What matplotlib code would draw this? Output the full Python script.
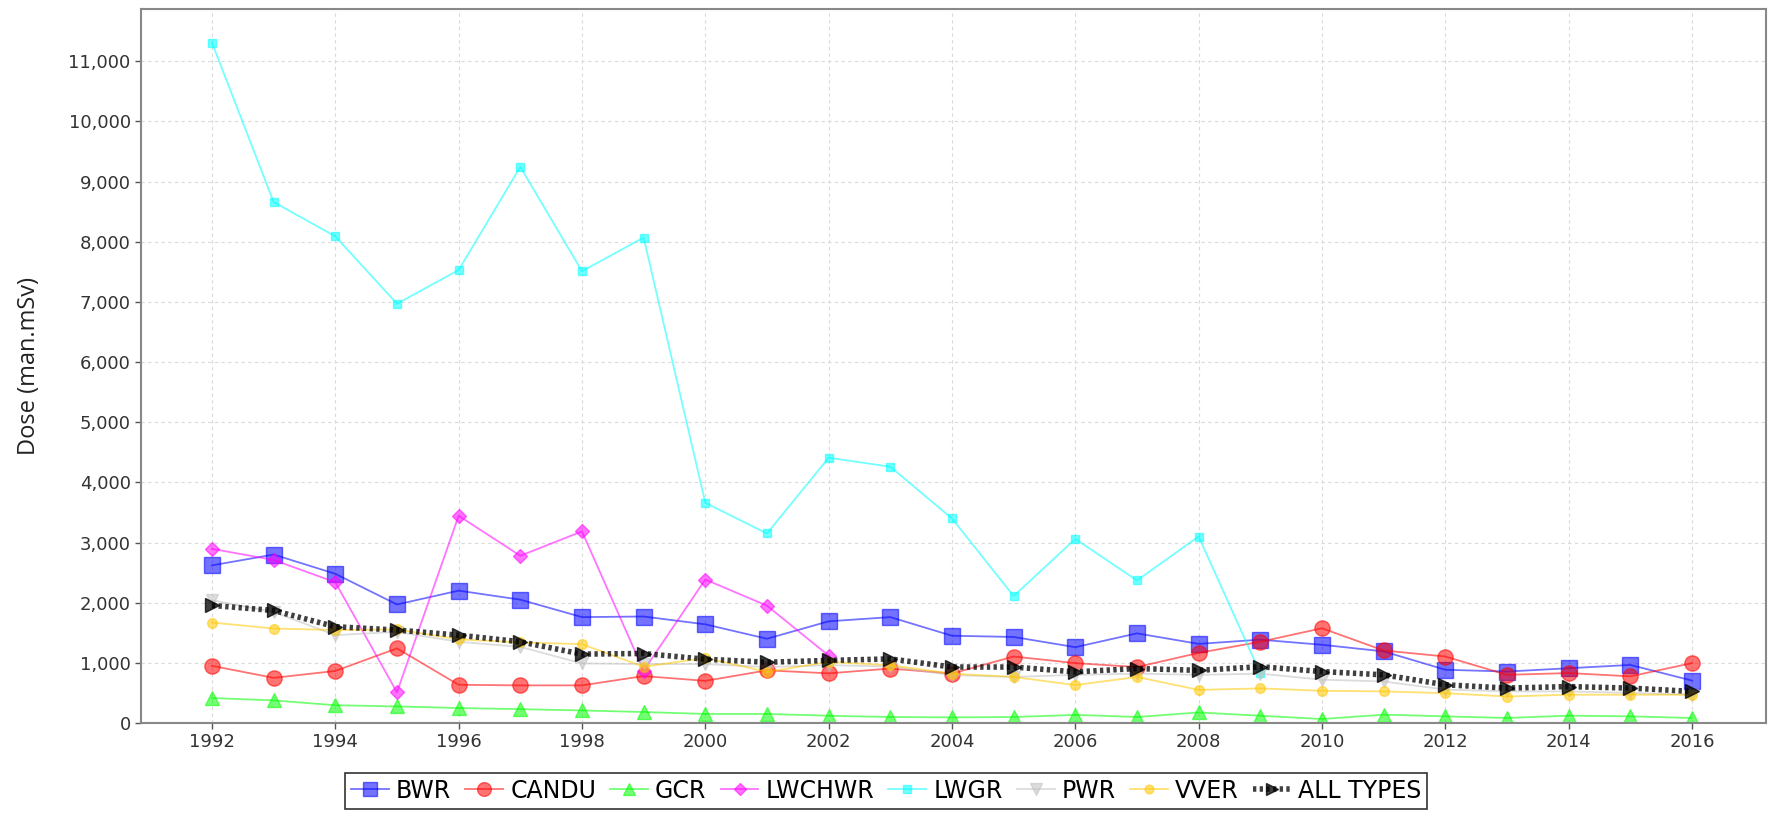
import matplotlib

matplotlib.use("Agg")
import matplotlib.pyplot as plt  # noqa: E402
from matplotlib.ticker import FuncFormatter, MultipleLocator  # noqa: E402

years = list(range(1992, 2017))

bwr = [2620, 2800, 2480, 1970, 2200, 2050, 1760, 1770, 1640, 1400, 1690, 1760,
       1450, 1430, 1260, 1490, 1315, 1385, 1300, 1190, 885, 855, 910, 965, 705]
candu = [950, 750, 865, 1240, 635, 625, 625, 780, 700, 875, 825, 905,
         822, 1105, 995, 930, 1165, 1350, 1575, 1205, 1105, 800, 830, 775, 995]
gcr = [415, 375, 295, 275, 248, 230, 208, 182, 150, 150, 120, 99,
       93, 99, 135, 99, 175, 120, 66, 138, 110, 83, 122, 110, 83]
lwchwr = [2895, 2710, 2340, 510, 3445, 2780, 3185, 870, 2385, 1950, 1120]
lwgr = [11310, 8660, 8090, 6970, 7530, 9245, 7510, 8070, 3660, 3150, 4410, 4260,
        3400, 2110, 3060, 2370, 3100, 825]
pwr = [2040, 1845, 1460, 1515, 1350, 1265, 990, 980, 980, 930, 960, 940,
       795, 765, 800, 820, 800, 820, 720, 690, 555, 525, 525, 500, 470]
vver = [1670, 1570, 1545, 1555, 1390, 1340, 1310, 935, 1080, 850, 1015, 960,
        820, 765, 630, 765, 550, 575, 535, 525, 495, 440, 470, 470, 470]
all_types = [1955, 1870, 1600, 1545, 1460, 1350, 1145, 1155, 1060, 1010, 1040, 1065,
             930, 930, 850, 905, 875, 935, 855, 800, 635, 580, 605, 580, 525]

series = [
    ("BWR", bwr, "#0000ff", "s", 11),
    ("CANDU", candu, "#ff0000", "o", 11),
    ("GCR", gcr, "#00ff00", "^", 10),
    ("LWCHWR", lwchwr, "#ff00ff", "D", 7),
    ("LWGR", lwgr, "#00ffff", "s", 6),
    ("PWR", pwr, "#c0c0c0", "v", 9),
    ("VVER", vver, "#ffc800", "o", 7),
]

fig = plt.figure(figsize=(17.72, 8.16), dpi=100)
ax = fig.add_axes([0.0796, 0.114, 0.917, 0.875])

for name, vals, color, marker, ms in series:
    ax.plot(years[:len(vals)], vals, color=color, alpha=0.55, linewidth=1.3,
            marker=marker, markersize=ms, markeredgecolor=color,
            markerfacecolor=color, label=name)

ax.plot(years, all_types, color="black", alpha=0.75, linewidth=4,
        linestyle=(0, (0.6, 0.6)), marker=">", markersize=10,
        markeredgecolor="black", markerfacecolor="black", label="ALL TYPES")

ax.set_xlim(1990.85, 2017.2)
ax.set_ylim(0, 11870)
ax.xaxis.set_major_locator(MultipleLocator(2))
ax.yaxis.set_major_locator(MultipleLocator(1000))
ax.yaxis.set_major_formatter(FuncFormatter(lambda v, p: f"{int(v):,}"))
ax.tick_params(labelsize=13, colors="#555555", length=4, width=1,
               labelcolor="#333333")
ax.grid(True, color="#dadada", linestyle=(0, (3, 3)), linewidth=0.8)
ax.set_axisbelow(True)
for spine in ax.spines.values():
    spine.set_color("#888888")
    spine.set_linewidth(1.5)

ax.set_ylabel("Dose (man.mSv)", fontsize=17, family="Open Sans",
              color="#222222", labelpad=20)

leg = fig.legend(loc="center", bbox_to_anchor=(0.5, 0.031), ncol=8,
                 frameon=True, fancybox=False, edgecolor="black",
                 prop={"size": 17},
                 handlelength=1.6, handletextpad=0.3, columnspacing=0.6,
                 borderpad=0.25, markerscale=0.9)
leg.get_frame().set_linewidth(1.2)

fig.savefig("out.png", dpi=100)
